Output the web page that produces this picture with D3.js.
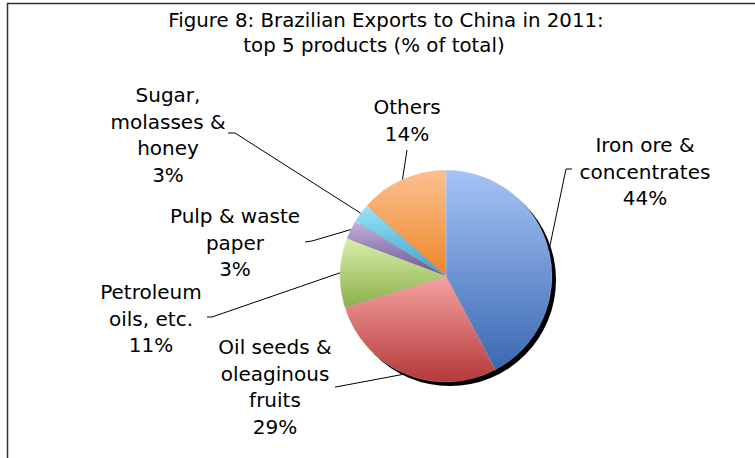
<!DOCTYPE html>
<html>
<head>
<meta charset="utf-8">
<script src="https://cdn.jsdelivr.net/npm/d3@7"></script>
<style>
  html, body { margin: 0; padding: 0; background: #fff; }
  svg { display: block; }
  text { font-family: "DejaVu Sans", sans-serif; fill: #000; }
</style>
</head>
<body>
<svg id="chart" width="755" height="458"></svg>
<script>
// Brazilian exports to China, 2011 — shares of total (%)
const categories = [
  "Iron ore & concentrates",
  "Oil seeds & oleaginous fruits",
  "Petroleum oils, etc.",
  "Pulp & waste paper",
  "Sugar, molasses & honey",
  "Others"
];
const shares = [44, 29, 11, 3, 3, 14];
const labelLines = [
  ["Iron ore &", "concentrates"],
  ["Oil seeds &", "oleaginous", "fruits"],
  ["Petroleum", "oils, etc."],
  ["Pulp & waste", "paper"],
  ["Sugar,", "molasses &", "honey"],
  ["Others"]
];
const titleLines = ["Figure 8: Brazilian Exports to China in 2011:", "top 5 products (% of total)"];

// Gradient stops per slice (top colour, bottom colour)
const sliceColors = [
  ["#a6c3f6", "#3a69b2"],
  ["#f6a3a2", "#b5393a"],
  ["#d8efaa", "#8bb04a"],
  ["#c3b1de", "#6b5393"],
  ["#9ee2f7", "#35a4cc"],
  ["#fbc191", "#ef8628"]
];

// Label placement: text centre x, first-line centre y, and leader-line start
const labelLayout = [
  { x: 645, y: 145, lead: [[572, 169], [566, 169]] },
  { x: 275, y: 347, lead: [[335, 387], [341, 386]] },
  { x: 151, y: 292, lead: [[207, 317], [212, 317]] },
  { x: 235, y: 216, lead: [[305, 242], [312, 241]] },
  { x: 168, y: 95,  lead: [[228, 133], [235, 133]] },
  { x: 407, y: 107, lead: [[407, 150]] }
];

const svg = d3.select("#chart");
const cx = 446, cy = 276, R = 106;
const lineH = 26.5;

// Chart frame (left and top edges)
svg.append("path")
  .attr("d", "M7.5,458 V3.5 H755")
  .attr("fill", "none")
  .attr("stroke", "#333")
  .attr("stroke-width", 1.5);

// Title
svg.append("text")
  .attr("x", 386).attr("y", 27)
  .attr("text-anchor", "middle")
  .style("font-size", "19.8px")
  .text(titleLines[0]);
svg.append("text")
  .attr("x", 374).attr("y", 52)
  .attr("text-anchor", "middle")
  .style("font-size", "19.8px")
  .text(titleLines[1]);

const defs = svg.append("defs");
sliceColors.forEach((c, i) => {
  const g = defs.append("linearGradient")
    .attr("id", "grad" + i)
    .attr("x1", 0).attr("y1", 0).attr("x2", 0).attr("y2", 1);
  g.append("stop").attr("offset", "0%").attr("stop-color", c[0]);
  g.append("stop").attr("offset", "100%").attr("stop-color", c[1]);
});
const blur = defs.append("filter").attr("id", "shadowBlur")
  .attr("x", "-10%").attr("y", "-10%").attr("width", "120%").attr("height", "120%");
blur.append("feGaussianBlur").attr("stdDeviation", 0.5);

const pie = d3.pie().sort(null).value(d => d).startAngle(0).endAngle(2 * Math.PI);
const arcs = pie(shares);
const arc = d3.arc().innerRadius(0).outerRadius(R);

const g = svg.append("g").attr("transform", `translate(${cx},${cy})`);

// Drop shadow under the pie
g.append("circle")
  .attr("cx", 4).attr("cy", 4).attr("r", R)
  .attr("fill", "#000")
  .attr("filter", "url(#shadowBlur)");

g.selectAll("path.slice")
  .data(arcs)
  .join("path")
  .attr("class", "slice")
  .attr("d", arc)
  .attr("fill", (d, i) => `url(#grad${i})`)
  .attr("stroke", "rgba(255,255,255,0.35)")
  .attr("stroke-width", 0.6);

// Leader lines from label to the slice edge at its mid-angle
const line = d3.line();
arcs.forEach((d, i) => {
  const a = (d.startAngle + d.endAngle) / 2;
  const edge = [cx + R * Math.sin(a), cy - R * Math.cos(a)];
  const pts = labelLayout[i].lead.concat([edge]);
  svg.append("path")
    .attr("d", line(pts))
    .attr("fill", "none")
    .attr("stroke", "#000")
    .attr("stroke-width", 1);
});

// Category labels with value
arcs.forEach((d, i) => {
  const L = labelLayout[i];
  const lines = labelLines[i].concat([shares[i] + "%"]);
  const t = svg.append("text")
    .attr("text-anchor", "middle")
    .style("font-size", "20px");
  lines.forEach((s, k) => {
    t.append("tspan")
      .attr("x", L.x)
      .attr("y", L.y + k * lineH)
      .attr("dy", "0.36em")
      .text(s);
  });
});
</script>
</body>
</html>
